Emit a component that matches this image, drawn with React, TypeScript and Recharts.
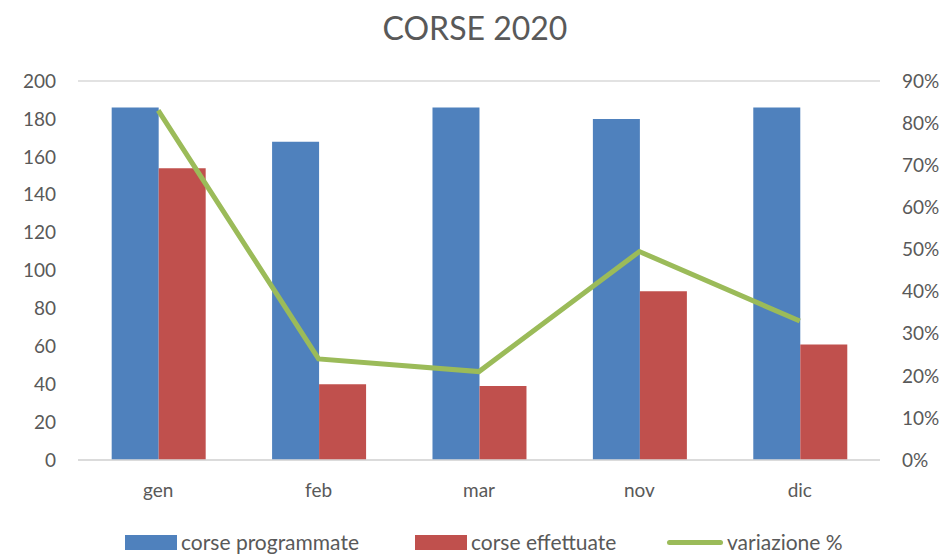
import React from "react";
import {
  ComposedChart, Bar, Line, XAxis, YAxis, CartesianGrid, Legend,
} from "recharts";

const months = ["gen", "feb", "mar", "nov", "dic"];
const programmate = [186, 168, 186, 180, 186];
const effettuate = [154, 40, 39, 89, 61];
const variazione = [0.83, 0.24, 0.21, 0.495, 0.33];

const leftTicks = [0, 20, 40, 60, 80, 100, 120, 140, 160, 180, 200];
const rightTicks = [0, 0.1, 0.2, 0.3, 0.4, 0.5, 0.6, 0.7, 0.8, 0.9];

const data = months.map((m, i) => ({
  name: m,
  prog: programmate[i],
  eff: effettuate[i],
  varz: variazione[i],
}));

const FONT = "Lato, 'Open Sans', sans-serif";
const TEXT = "#595959";
const tick = { fill: TEXT, fontSize: 19, fontFamily: FONT };

function LegendBox() {
  const item = (swatch: React.ReactNode, label: string, left: number) => (
    <div style={{ position: "absolute", left, top: -3, display: "flex", alignItems: "center", height: 22 }}>
      {swatch}
      <span style={{ marginLeft: 4, fontSize: 21, lineHeight: "22px", color: TEXT, fontFamily: FONT, whiteSpace: "nowrap" }}>{label}</span>
    </div>
  );
  return (
    <div style={{ position: "relative", width: 950, height: 22 }}>
      {item(<span style={{ width: 52, height: 15, background: "#4F81BD", display: "inline-block" }} />, "corse programmate", 125)}
      {item(<span style={{ width: 52, height: 15, background: "#C0504D", display: "inline-block" }} />, "corse effettuate", 415)}
      {item(<span style={{ width: 56, height: 5, borderRadius: 3, background: "#9BBB59", display: "inline-block" }} />, "variazione %", 667)}
    </div>
  );
}

export default function App() {
  return (
    <div style={{ position: "absolute", left: 0, top: 0, width: 950, height: 556, background: "#fff" }}>
      <div style={{ position: "absolute", left: 0, top: 8, width: 950, textAlign: "center", fontFamily: FONT, fontSize: 32, color: TEXT }}>
        CORSE 2020
      </div>
      <ComposedChart
        width={950}
        height={556}
        data={data}
        margin={{ top: 81, right: 0, bottom: 0, left: 0 }}
        barGap={0}
        barCategoryGap="21%"
      >
        <CartesianGrid vertical={false} stroke="#D9D9D9" strokeWidth={1.5} />
        <XAxis
          dataKey="name"
          height={74}
          tick={tick}
          tickLine={false}
          axisLine={{ stroke: "#D9D9D9", strokeWidth: 1.5 }}
          tickSize={0}
          tickMargin={24}
        />
        <YAxis
          yAxisId="left"
          width={78}
          domain={[0, 200]}
          ticks={leftTicks}
          tick={tick}
          tickLine={false}
          axisLine={false}
          tickSize={0}
          tickMargin={22}
          interval={0}
        />
        <YAxis
          yAxisId="right"
          orientation="right"
          width={70}
          domain={[0, 0.9]}
          ticks={rightTicks}
          tickFormatter={(v: number) => `${Math.round(v * 100)}%`}
          tick={tick}
          tickLine={false}
          axisLine={false}
          tickSize={0}
          tickMargin={22}
          interval={0}
        />
        <Bar yAxisId="left" dataKey="prog" name="corse programmate" fill="#4F81BD" isAnimationActive={false} />
        <Bar yAxisId="left" dataKey="eff" name="corse effettuate" fill="#C0504D" isAnimationActive={false} />
        <Line
          yAxisId="right"
          dataKey="varz"
          name="variazione %"
          stroke="#9BBB59"
          strokeWidth={5}
          dot={false}
          type="linear"
          isAnimationActive={false}
        />
        <Legend verticalAlign="bottom" height={22} content={() => <LegendBox />} />
      </ComposedChart>
    </div>
  );
}
